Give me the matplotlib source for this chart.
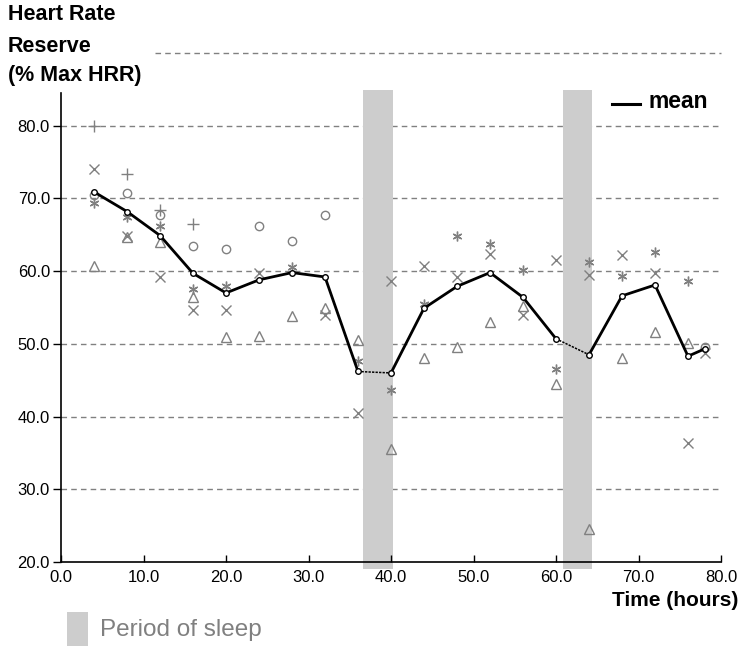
import numpy as np
import matplotlib
matplotlib.use("Agg")
import matplotlib.pyplot as plt
from matplotlib.patches import Rectangle
from matplotlib.lines import Line2D

plt.rcParams['font.family'] = ['Liberation Sans', 'DejaVu Sans']

nan = np.nan

# Sampling times (hours)
hours = [4, 8, 12, 16, 20, 24, 28, 32, 36, 40, 44, 48, 52, 56, 60, 64, 68, 72, 76, 78]

# Group mean heart rate reserve (% max HRR)
mean_hrr = [70.9, 68.2, 64.9, 59.7, 57.0, 58.8, 59.8, 59.2, 46.2, 46.0,
            54.9, 57.9, 59.8, 56.4, 50.7, 48.5, 56.6, 58.1, 48.3, 49.3]

# Individual subjects
subj_plus = [80.0, 73.3, 68.4, 66.5, nan, nan, nan, nan, nan, nan,
             nan, nan, nan, nan, nan, nan, nan, nan, nan, nan]
subj_circle = [70.5, 70.7, 67.7, 63.4, 63.1, 66.2, 64.2, 67.7, nan, nan,
               nan, nan, nan, nan, nan, nan, nan, nan, nan, 49.6]
subj_cross = [74.0, 64.9, 59.2, 54.6, 54.6, 59.8, nan, 53.9, 40.5, 58.6,
              60.7, 59.2, 62.4, 54.0, 61.5, 59.5, 62.2, 59.8, 36.3, 48.7]
subj_star = [69.4, 67.5, 66.2, 57.6, 58.0, nan, 60.6, nan, 47.6, 43.6,
             55.5, 64.9, 63.7, 60.2, 46.5, 61.2, 59.4, 62.6, 58.6, nan]
subj_triangle = [60.7, 64.7, 64.0, 56.5, 51.0, 51.1, 53.8, 55.0, 50.5, 35.6,
                 48.1, 49.5, 53.0, 55.2, 44.5, 24.5, 48.1, 51.6, 50.1, nan]

sleep_periods = [(36.6, 40.2), (60.8, 64.4)]

y_ticks = [20, 30, 40, 50, 60, 70, 80]
x_ticks = [0, 10, 20, 30, 40, 50, 60, 70, 80]

W, H = 743, 647
fig = plt.figure(figsize=(W / 100, H / 100), dpi=100)
ax = fig.add_axes([61 / W, 1 - 562 / H, 660 / W, 509 / H])
ax.set_xlim(0, 80)
ax.set_ylim(20, 90)

grey = '#808080'

# dashed horizontal grid
for v in y_ticks[1:]:
    ax.axhline(v, color=grey, lw=1, ls=(0, (4, 3)), zorder=0)
ax.axhline(90, xmin=(155 - 61) / 660, color=grey, lw=1, ls=(0, (4, 3)),
           zorder=0, clip_on=False)

# sleep periods
for start, end in sleep_periods:
    ax.add_patch(Rectangle((start, 19.1), end - start, 84.9 - 19.1,
                           facecolor='#cdcdcd', edgecolor='none',
                           zorder=1, clip_on=False))

# individual subjects
mk = dict(linestyle='none', mfc='none', mec=grey, mew=1, zorder=3)
ax.plot(hours, subj_plus, marker='+', ms=8, **mk)
ax.plot(hours, subj_circle, marker='o', ms=6, **mk)
ax.plot(hours, subj_cross, marker='x', ms=6.5, **mk)
ax.plot(hours, subj_star, marker=(6, 2, 0), ms=7, **mk)
ax.plot(hours, subj_triangle, marker='^', ms=7, **mk)

# mean: solid while awake, thin during sleep
h = np.array(hours, dtype=float)
m = np.array(mean_hrr)
awake = [(0, 9), (9, 15), (15, 20)]
for a, b in awake:
    ax.plot(h[a:b], m[a:b], color='black', lw=2, zorder=4,
            solid_capstyle='butt')
for i in (8, 14):
    ax.plot(h[i:i + 2], m[i:i + 2], color='black', lw=1.1,
            ls=(0, (1.5, 0.8)), zorder=4)
ax.plot(h, m, linestyle='none', marker='o', ms=4, mfc='white', mec='black',
        mew=1, zorder=5)

# axes styling
for s in ('top', 'right'):
    ax.spines[s].set_visible(False)
ax.spines['left'].set_bounds(20, 84.5)
ax.spines['left'].set_linewidth(1.2)
ax.spines['bottom'].set_linewidth(1.2)
ax.spines['left'].set_zorder(6)
ax.spines['bottom'].set_zorder(6)

ax.set_yticks(y_ticks)
ax.set_yticklabels([f'{v:.1f}' for v in y_ticks])
ax.set_xticks(x_ticks)
ax.set_xticklabels([f'{v:.1f}' for v in x_ticks])
ax.tick_params(axis='y', direction='out', length=6, width=1, labelsize=12, pad=2)
ax.tick_params(axis='x', direction='in', length=5, width=1, labelsize=12, pad=6)

# axis titles
title_kw = dict(fontsize=15.5, fontweight='bold', ha='left', va='center')
fig.text(8 / W, 1 - 15 / H, 'Heart Rate', **title_kw)
fig.text(8 / W, 1 - 46 / H, 'Reserve', **title_kw)
fig.text(8 / W, 1 - 76 / H, '(% Max HRR)', **title_kw)
fig.text(738 / W, 1 - 600 / H, 'Time (hours)', fontsize=15,
         fontweight='bold', ha='right', va='center')

# legend entries
fig.add_artist(Line2D([612 / W, 640 / W], [1 - 104 / H, 1 - 104 / H],
                      color='black', lw=2.2))
fig.text(649 / W, 1 - 102 / H, 'mean', fontsize=16.5, fontweight='bold',
         ha='left', va='center')
fig.add_artist(Rectangle((67 / W, 1 - 646 / H), 21 / W, 34 / H,
                         facecolor='#cdcdcd', edgecolor='none',
                         transform=fig.transFigure))
fig.text(100 / W, 1 - 630 / H, 'Period of sleep', fontsize=17.5, color=grey,
         ha='left', va='center')

fig.savefig('out.png', dpi=100)
